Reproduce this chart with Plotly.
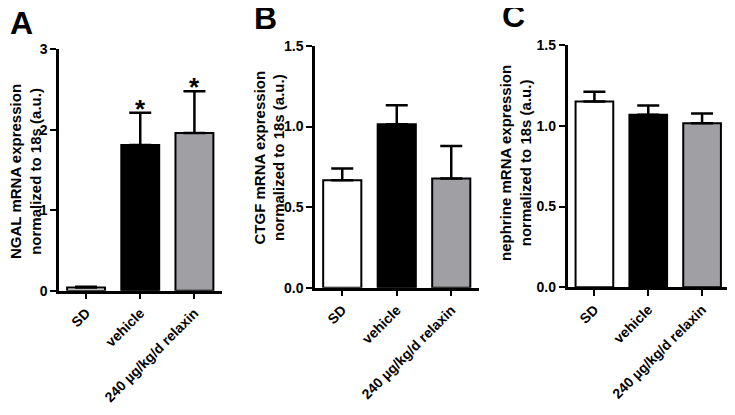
import plotly.graph_objects as go

W, H = 735, 415
OFF = 8  # page body margin offset in the screenshot

categories = ["SD", "vehicle", "240 µg/kg/d relaxin"]
bar_colors = ["#ffffff", "#000000", "#a0a0a4"]

# Panel A: NGAL
ngal_mean = [0.04, 1.81, 1.96]
ngal_sem = [0.01, 0.40, 0.52]
# Panel B: CTGF
ctgf_mean = [0.667, 1.015, 0.677]
ctgf_sem = [0.073, 0.118, 0.203]
# Panel C: nephrine
neph_mean = [1.15, 1.068, 1.016]
neph_sem = [0.06, 0.058, 0.06]

titles = ["NGAL mRNA expression<br>normalized to 18s (a.u.)",
          "CTGF mRNA expression<br>normalized to 18s (a.u.)",
          "nephrine mRNA expression<br>normalized to 18s (a.u.)"]
panel_letters = ["A", "B", "C"]
y_tickvals = [[0, 1, 2, 3], [0, 0.5, 1.0, 1.5], [0, 0.5, 1.0, 1.5]]
y_ranges = [[0, 3], [0, 1.5], [0, 1.5]]
y_formats = ["d", ".1f", ".1f"]
stars_A = ["", "*", "*"]

FONT = "Arial, Liberation Sans, sans-serif"

def px_x(p):
    return (p - OFF) / W

def px_y(p):
    return 1 - (p - OFF) / H

# pixel domains in screenshot coords: (x0, x1, ybottom, ytop)
dom = [(59, 221.5, 290.7, 49.3), (315, 478.5, 287.7, 46), (567.5, 729, 287.3, 45)]
title_pos = [(25, 172), (268.5, 158), (515, 163)]
letter_pos = [(21, 23), (265, 17.5), (513, 16)]

fig = go.Figure()
data = [(ngal_mean, ngal_sem), (ctgf_mean, ctgf_sem), (neph_mean, neph_sem)]
for i, (m, s) in enumerate(data):
    xa = "x" if i == 0 else f"x{i+1}"
    ya = "y" if i == 0 else f"y{i+1}"
    fig.add_trace(go.Bar(
        x=categories, y=m, xaxis=xa, yaxis=ya, width=0.7,
        marker=dict(color=bar_colors, line=dict(color="black", width=2)),
        error_y=dict(type="data", array=s, arrayminus=[0] * len(s), symmetric=False,
                     color="black", thickness=2.5, width=11),
        showlegend=False, hoverinfo="skip",
    ))

layout = dict(template="none", width=W, height=H,
              margin=dict(l=0, r=0, t=0, b=0, autoexpand=False),
              plot_bgcolor="white", paper_bgcolor="white",
              font=dict(family=FONT, color="black"))
annotations = []
for i in range(3):
    x0, x1, yb, yt = dom[i]
    sx = "" if i == 0 else str(i + 1)
    layout["xaxis" + sx] = dict(
        domain=[px_x(x0), px_x(x1)], anchor="y" + sx, type="category",
        range=[-0.5, 2.5], showline=True, linecolor="black", linewidth=2.5,
        ticks="outside", ticklen=6, tickwidth=2, tickcolor="black", automargin=False,
        tickangle=-45, tickfont=dict(family=FONT, size=14, color="black", weight="bold"),
        showgrid=False, zeroline=False, fixedrange=True,
    )
    layout["yaxis" + sx] = dict(
        domain=[px_y(yb), px_y(yt)], anchor="x" + sx, range=y_ranges[i],
        tickvals=y_tickvals[i], tickformat=y_formats[i], automargin=False,
        showline=True, linecolor="black", linewidth=2.5,
        ticks="outside", ticklen=6, tickwidth=2, tickcolor="black",
        tickfont=dict(family=FONT, size=14, color="black", weight="bold"),
        showgrid=False, zeroline=False, fixedrange=True,
    )
    tx, ty = title_pos[i]
    annotations.append(dict(
        text=titles[i], x=px_x(tx), y=px_y(ty), xref="paper", yref="paper",
        xanchor="center", yanchor="middle", textangle=-90, showarrow=False,
        font=dict(family=FONT, size=15, color="black", weight="bold"),
    ))
    lx, ly = letter_pos[i]
    annotations.append(dict(
        text=panel_letters[i], x=px_x(lx), y=px_y(ly), xref="paper", yref="paper",
        xanchor="center", yanchor="middle", showarrow=False,
        font=dict(family=FONT, size=32, color="black", weight="bold"),
    ))

for j, st in enumerate(stars_A):
    if st:
        annotations.append(dict(
            text=st, x=categories[j], y=ngal_mean[j] + ngal_sem[j], xref="x", yref="y",
            xanchor="center", yanchor="middle", yshift=4, showarrow=False,
            font=dict(family=FONT, size=26, color="black", weight="bold"),
        ))

layout["annotations"] = annotations
fig.update_layout(**layout)
fig.write_html("out.html")
